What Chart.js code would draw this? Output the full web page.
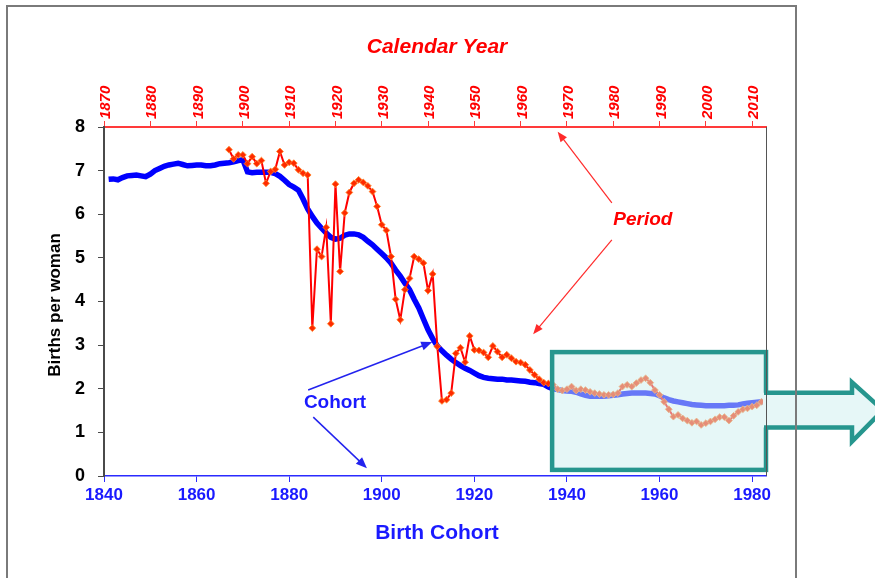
<!DOCTYPE html>
<html>
<head>
<meta charset="utf-8">
<script src="https://cdn.jsdelivr.net/npm/chart.js@4.4.1/dist/chart.umd.min.js"></script>
<style>
  html, body { margin: 0; padding: 0; background: #fff; }
  canvas { display: block; }
</style>
</head>
<body>
<canvas id="chart" width="875" height="578"></canvas>
<script>
// Completed fertility by birth cohort of the mothers (one value per cohort year)
const cohortFirstYear = 1841;
const cohortTfr = [
  6.80, 6.81, 6.79, 6.84, 6.88, 6.89, 6.90, 6.88, 6.86, 6.92,
  7.00, 7.05, 7.10, 7.13, 7.15, 7.17, 7.14, 7.11, 7.12, 7.13,
  7.13, 7.11, 7.11, 7.13, 7.16, 7.17, 7.18, 7.20, 7.23, 7.25,
  6.97, 6.95, 6.96, 6.96, 6.96, 6.96, 6.93, 6.87, 6.78, 6.68,
  6.62, 6.55, 6.35, 6.12, 5.95, 5.80, 5.68, 5.57, 5.47, 5.43,
  5.45, 5.52, 5.55, 5.55, 5.53, 5.47, 5.38, 5.30, 5.20, 5.10,
  5.00, 4.88, 4.72, 4.58, 4.42, 4.27, 4.05, 3.85, 3.60, 3.35,
  3.15, 2.98, 2.87, 2.77, 2.68, 2.60, 2.53, 2.47, 2.42, 2.36,
  2.30, 2.26, 2.24, 2.23, 2.22, 2.22, 2.20, 2.20, 2.19, 2.18,
  2.17, 2.15, 2.14, 2.12, 2.10, 2.04, 2.00, 1.98, 1.96, 1.95,
  1.94, 1.92, 1.88, 1.85, 1.83, 1.83, 1.83, 1.83, 1.84, 1.85,
  1.86, 1.88, 1.89, 1.90, 1.90, 1.90, 1.90, 1.89, 1.88, 1.84,
  1.79, 1.75, 1.72, 1.70, 1.68, 1.66, 1.64, 1.63, 1.62, 1.61,
  1.61, 1.61, 1.61, 1.61, 1.62, 1.62, 1.63, 1.65, 1.67, 1.68,
  1.69, 1.70, 1.71
];

// Period TFR by calendar year
const periodFirstYear = 1897;
const periodTfr = [
  7.48, 7.27, 7.36, 7.36, 7.16, 7.32, 7.16, 7.23, 6.71, 6.98,
  7.03, 7.44, 7.13, 7.19, 7.17, 7.02, 6.94, 6.90, 3.39, 5.20,
  5.03, 5.70, 3.49, 6.69, 4.69, 6.03, 6.50, 6.71, 6.79, 6.73,
  6.65, 6.52, 6.18, 5.76, 5.63, 5.03, 4.05, 3.58, 4.27, 4.53,
  5.03, 4.97, 4.88, 4.25, 4.63, 2.97, 1.72, 1.75, 1.90, 2.81,
  2.94, 2.61, 3.21, 2.89, 2.88, 2.83, 2.72, 2.98, 2.85, 2.72,
  2.78, 2.70, 2.62, 2.60, 2.55, 2.43, 2.32, 2.22, 2.14, 2.12,
  2.09, 1.99, 1.96, 1.99, 2.05, 1.96, 1.99, 1.97, 1.93, 1.90,
  1.88, 1.86, 1.86, 1.87, 1.90, 2.05, 2.09, 2.05, 2.13, 2.20,
  2.24, 2.14, 1.97, 1.86, 1.70, 1.53, 1.36, 1.40, 1.32, 1.27,
  1.22, 1.25, 1.17, 1.21, 1.25, 1.30, 1.35, 1.35, 1.27, 1.38,
  1.47, 1.53, 1.55, 1.59, 1.62, 1.70
];

// tick labels
const cohortTicks = [1840, 1860, 1880, 1900, 1920, 1940, 1960, 1980];
const calendarTicks = [1870, 1880, 1890, 1900, 1910, 1920, 1930, 1940, 1950, 1960, 1970, 1980, 1990, 2000, 2010];
const birthTicks = [0, 1, 2, 3, 4, 5, 6, 7, 8];

const cohortPoints = cohortTfr.map((v, i) => ({ x: cohortFirstYear + i, y: v }));
const periodPoints = periodTfr.map((v, i) => ({ x: periodFirstYear + i, y: v }));

Chart.defaults.font.family = '"Liberation Sans", Arial, sans-serif';

const FONT = '"Liberation Sans", Arial, sans-serif';
const TEAL = '#26968e';

// draws an arrow from (x1,y1) to (x2,y2) with a filled head at the end
function arrow(ctx, x1, y1, x2, y2, color, width, headLen, headW) {
  const a = Math.atan2(y2 - y1, x2 - x1);
  ctx.save();
  ctx.strokeStyle = color;
  ctx.fillStyle = color;
  ctx.lineWidth = width;
  ctx.beginPath();
  ctx.moveTo(x1, y1);
  ctx.lineTo(x2 - Math.cos(a) * headLen * 0.8, y2 - Math.sin(a) * headLen * 0.8);
  ctx.stroke();
  ctx.translate(x2, y2);
  ctx.rotate(a);
  ctx.beginPath();
  ctx.moveTo(0, 0);
  ctx.lineTo(-headLen, -headW / 2);
  ctx.lineTo(-headLen, headW / 2);
  ctx.closePath();
  ctx.fill();
  ctx.restore();
}

// highlighted recent cohorts + block arrow pointing out of the plot
const boxOverlay = {
  id: 'boxOverlay',
  afterDatasetsDraw(chart) {
    const { ctx, chartArea, scales: { x, y } } = chart;
    const l = x.getPixelForValue(1936.8);
    const r = chartArea.right;
    const t = y.getPixelForValue(2.84);
    const b = y.getPixelForValue(0.14);
    const sTop = y.getPixelForValue(1.91);
    const sBot = y.getPixelForValue(1.11);
    const hTop = y.getPixelForValue(2.15);
    const hBot = y.getPixelForValue(0.79);
    const mid = (sTop + sBot) / 2;
    const headX = 852, tipX = 883;

    ctx.save();
    ctx.fillStyle = 'rgba(205,239,239,0.5)';
    ctx.fillRect(l, t, r - l, b - t);
    ctx.strokeStyle = TEAL;
    ctx.lineWidth = 4.5;
    ctx.strokeRect(l, t, r - l, b - t);

    // block arrow
    ctx.beginPath();
    ctx.moveTo(r - 3, sTop);
    ctx.lineTo(headX, sTop);
    ctx.lineTo(headX, hTop);
    ctx.lineTo(tipX, mid);
    ctx.lineTo(headX, hBot);
    ctx.lineTo(headX, sBot);
    ctx.lineTo(r - 3, sBot);
    ctx.closePath();
    ctx.fillStyle = '#e6f7f7';
    ctx.fill();

    ctx.beginPath();
    ctx.moveTo(r - 2, sTop);
    ctx.lineTo(headX, sTop);
    ctx.lineTo(headX, hTop);
    ctx.lineTo(tipX, mid);
    ctx.lineTo(headX, hBot);
    ctx.lineTo(headX, sBot);
    ctx.lineTo(r - 2, sBot);
    ctx.lineJoin = 'miter';
    ctx.stroke();

    // thin right edge of plot area
    ctx.strokeStyle = '#555';
    ctx.lineWidth = 1;
    ctx.beginPath();
    ctx.moveTo(r + 0.5, chartArea.top);
    ctx.lineTo(r + 0.5, chartArea.bottom);
    ctx.stroke();
    ctx.restore();
  },
  afterDraw(chart) {
    const { ctx, scales: { x, y } } = chart;
    const px = v => x.getPixelForValue(v);
    const py = v => y.getPixelForValue(v);
    ctx.save();

    // outer frame
    ctx.strokeStyle = '#7a7a7a';
    ctx.lineWidth = 2;
    ctx.strokeRect(7, 6, 789, 620);

    ctx.textAlign = 'center';
    ctx.textBaseline = 'middle';

    ctx.fillStyle = '#ff0000';
    ctx.font = 'italic bold 21px ' + FONT;
    ctx.fillText('Calendar Year', 437, 47);

    ctx.fillStyle = '#1a1aff';
    ctx.font = 'bold 21px ' + FONT;
    ctx.fillText('Birth Cohort', 437, 533);

    ctx.save();
    ctx.translate(55, 305);
    ctx.rotate(-Math.PI / 2);
    ctx.fillStyle = '#000';
    ctx.font = 'bold 17px ' + FONT;
    ctx.fillText('Births per woman', 0, 0);
    ctx.restore();

    // annotations
    ctx.fillStyle = '#ff0000';
    ctx.font = 'italic bold 19px ' + FONT;
    ctx.fillText('Period', px(1956.4), py(5.87));
    arrow(ctx, px(1949.7), py(6.26), px(1938.0), py(7.89), '#ff2a2a', 1.2, 10, 8);
    arrow(ctx, px(1949.7), py(5.41), px(1932.7), py(3.25), '#ff2a2a', 1.2, 10, 8);

    ctx.fillStyle = '#1a1aff';
    ctx.font = 'bold 19px ' + FONT;
    ctx.fillText('Cohort', px(1889.9), py(1.67));
    arrow(ctx, px(1884.1), py(1.97), px(1910.9), py(3.07), '#2323ee', 1.5, 11, 9);
    arrow(ctx, px(1885.2), py(1.35), px(1896.8), py(0.18), '#2323ee', 1.5, 11, 9);

    ctx.restore();
  }
};

new Chart(document.getElementById('chart'), {
  type: 'line',
  data: {
    datasets: [
      {
        label: 'Period',
        data: periodPoints,
        xAxisID: 'x2',
        yAxisID: 'y',
        borderColor: '#ff0000',
        borderWidth: 2,
        pointStyle: 'rectRot',
        pointRadius: 3.4,
        pointBackgroundColor: '#ff2a00',
        pointBorderColor: 'rgba(255,130,40,0.85)',
        pointBorderWidth: 1,
        tension: 0,
        order: 0
      },
      {
        label: 'Cohort',
        data: cohortPoints,
        xAxisID: 'x',
        yAxisID: 'y',
        borderColor: '#0000ff',
        borderWidth: 5.5,
        pointRadius: 0,
        tension: 0,
        order: 1
      }
    ]
  },
  options: {
    responsive: false,
    devicePixelRatio: 1,
    animation: false,
    layout: { padding: { left: 0, right: 109, top: 0, bottom: 0 } },
    plugins: {
      legend: { display: false },
      tooltip: { enabled: false }
    },
    scales: {
      x: {
        type: 'linear',
        position: 'bottom',
        min: 1840,
        max: 1983,
        afterBuildTicks: s => { s.ticks = cohortTicks.map(v => ({ value: v })); },
        afterFit: s => { s.height = 102; },
        border: { display: true, color: '#2b2bff', width: 1.5 },
        grid: { drawOnChartArea: false, drawTicks: true, tickLength: 6, color: '#2b2bff' },
        ticks: {
          color: '#1a1aff',
          font: { size: 17, weight: 'bold' },
          padding: 3,
          maxRotation: 0,
          callback: v => String(v)
        }
      },
      x2: {
        type: 'linear',
        position: 'top',
        min: 1870,
        max: 2013,
        afterBuildTicks: s => { s.ticks = calendarTicks.map(v => ({ value: v })); },
        afterFit: s => { s.height = 127; },
        border: { display: true, color: '#ff3a3a', width: 2 },
        grid: { drawOnChartArea: false, drawTicks: true, tickLength: 6, color: '#ff3a3a' },
        ticks: {
          color: '#ff0000',
          font: { size: 15, weight: 'bold', style: 'italic' },
          padding: 2,
          minRotation: 90,
          maxRotation: 90,
          labelOffset: 20,
          callback: v => String(v)
        }
      },
      y: {
        type: 'linear',
        position: 'left',
        min: 0,
        max: 8,
        afterBuildTicks: s => { s.ticks = birthTicks.map(v => ({ value: v })); },
        afterFit: s => { s.width = 104; },
        border: { display: true, color: '#4a4a4a', width: 2 },
        grid: { drawOnChartArea: false, drawTicks: true, tickLength: 6, color: '#4a4a4a' },
        ticks: {
          color: '#000',
          font: { size: 18, weight: 'bold' },
          padding: 13
        }
      }
    }
  },
  plugins: [boxOverlay]
});
</script>
</body>
</html>
